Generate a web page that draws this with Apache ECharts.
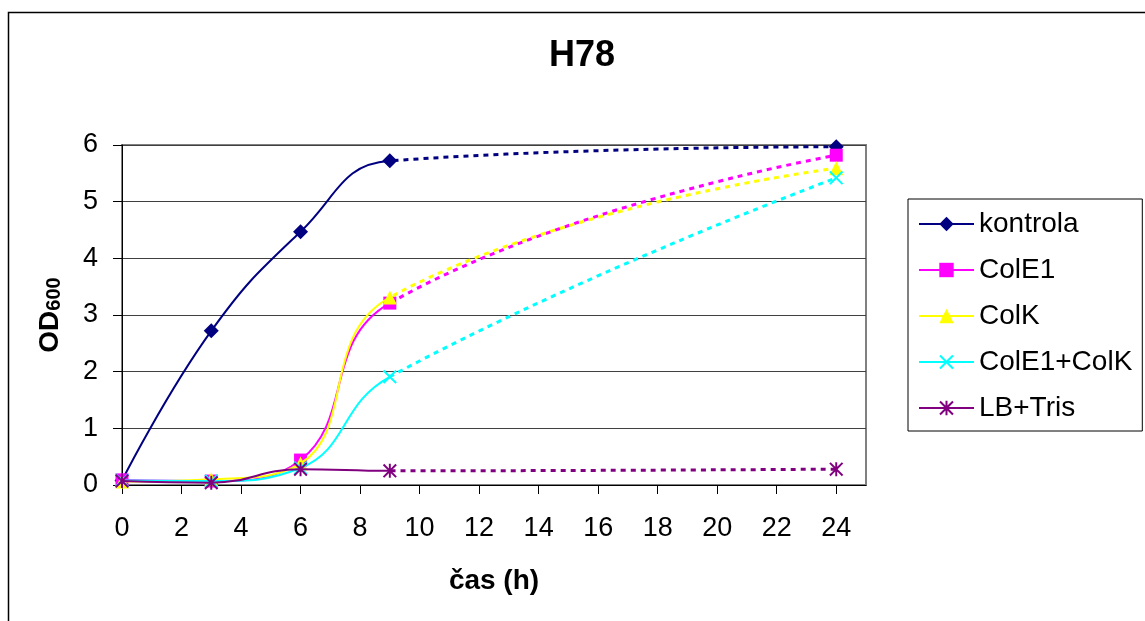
<!DOCTYPE html>
<html>
<head>
<meta charset="utf-8">
<script src="https://cdn.jsdelivr.net/npm/echarts@6/dist/echarts.min.js"></script>
<style>
html,body{margin:0;padding:0;background:#fff;}
#chart{width:1145px;height:621px;}
</style>
</head>
<body>
<div id="chart"></div>
<script>
// ---- data ----
const hours = [0, 3, 6, 9, 24];
const xTicks = [0, 2, 4, 6, 8, 10, 12, 14, 16, 18, 20, 22, 24];
const yTicks = [0, 1, 2, 3, 4, 5, 6];
const seriesNames = ['kontrola', 'ColE1', 'ColK', 'ColE1+ColK', 'LB+Tris'];
const kontrola  = [0.08, 2.72, 4.47, 5.72, 5.97];
const colE1     = [0.09, 0.07, 0.44, 3.21, 5.82];
const colK      = [0.06, 0.10, 0.38, 3.31, 5.59];
const colE1ColK = [0.08, 0.07, 0.30, 1.91, 5.42];
const lbTris    = [0.07, 0.04, 0.28, 0.25, 0.28];
const solidUntil = 9; // hours: solid line up to here, dotted after

// ---- styling ----
const FONT = '"Liberation Sans", Arial, sans-serif';
const X_PATH = 'path://M0,1L1,0L5,4L9,0L10,1L6,5L10,9L9,10L5,6L1,10L0,9L4,5Z';
const AST_PATH = 'path://M0,1L1,0L5,4L9,0L10,1L6,5L10,9L9,10L5,6L1,10L0,9L4,5Z M4.3,0L5.7,0L5.7,10L4.3,10Z';
const styles = [
  {color: '#000080', symbol: 'diamond', size: 15},
  {color: '#FF00FF', symbol: 'rect', size: 13},
  {color: '#FFFF00', symbol: 'triangle', size: 14},
  {color: '#00FFFF', symbol: X_PATH, size: 14},
  {color: '#800080', symbol: AST_PATH, size: 14}
];
const allValues = [kontrola, colE1, colK, colE1ColK, lbTris];
const CLEAR = 'rgba(255,255,255,0)';

const series = [];
const visualMaps = [];
seriesNames.forEach((name, k) => {
  const st = styles[k];
  const vals = allValues[k];
  const pts = hours.map((h, i) => [h, vals[i]]);
  // solid part (full smooth curve, visible only before solidUntil)
  visualMaps.push({
    type: 'piecewise', show: false, dimension: 0, seriesIndex: series.length,
    pieces: [{gte: -1000, lt: solidUntil, color: st.color}, {gte: solidUntil, lte: 1000, color: CLEAR}]
  });
  series.push({
    name: name, type: 'line', data: pts,
    smooth: 0.45, symbol: st.symbol, symbolSize: st.size, showSymbol: true,
    lineStyle: {width: 2},
    itemStyle: {color: st.color},
    emphasis: {disabled: true}, z: 2 + k
  });
  // dotted part (same curve, visible only from solidUntil on)
  visualMaps.push({
    type: 'piecewise', show: false, dimension: 0, seriesIndex: series.length,
    pieces: [{gte: -1000, lt: solidUntil, color: CLEAR}, {gte: solidUntil, lte: 1000, color: st.color}]
  });
  series.push({
    name: name, type: 'line', data: pts,
    smooth: 0.45, symbol: st.symbol, symbolSize: st.size, showSymbol: true,
    lineStyle: {width: 3, type: [5, 5]},
    itemStyle: {color: st.color},
    emphasis: {disabled: true}, z: 2 + k
  });
});

const chart = echarts.init(document.getElementById('chart'), null, {renderer: 'canvas'});
chart.setOption({
  animation: false,
  backgroundColor: '#fff',
  textStyle: {fontFamily: FONT},
  title: {
    text: 'H78', left: 549, top: 38, padding: 0,
    textStyle: {fontFamily: FONT, fontSize: 36, fontWeight: 'bold', color: '#000'}
  },
  graphic: [{
    type: 'rect', silent: true, z: -10,
    shape: {x: 8.5, y: 12.5, width: 1300, height: 800},
    style: {fill: 'none', stroke: '#000', lineWidth: 1.5}
  }],
  grid: {
    left: 122, right: 279, top: 145, bottom: 136,
    show: true, borderColor: '#808080', borderWidth: 2, backgroundColor: '#fff'
  },
  visualMap: visualMaps,
  legend: {
    orient: 'vertical', left: 908, top: 199,
    data: seriesNames.map((n, k) => ({name: n, itemStyle: {color: styles[k].color}, lineStyle: {color: styles[k].color, width: 2, type: 'solid'}})),
    itemWidth: 55, itemHeight: 18, itemGap: 18,
    padding: [11, 10, 9, 10],
    borderColor: '#000', borderWidth: 1, backgroundColor: '#fff',
    selectedMode: false,
    textStyle: {fontFamily: FONT, fontSize: 28, color: '#000'}
  },
  xAxis: {
    type: 'value', min: 0, max: 25, interval: 2,
    name: 'čas (h)', nameLocation: 'middle', nameGap: 82,
    nameTextStyle: {fontFamily: FONT, fontSize: 28, fontWeight: 'bold', color: '#000'},
    axisLine: {show: true, lineStyle: {color: '#000', width: 1}},
    axisTick: {show: true, length: 9, lineStyle: {color: '#000'}, customValues: xTicks},
    axisLabel: {
      fontFamily: FONT, fontSize: 27, color: '#000', margin: 30,
      customValues: xTicks,
      formatter: v => (xTicks.indexOf(v) >= 0 ? String(v) : '')
    },
    splitLine: {show: false}
  },
  yAxis: {
    type: 'value', min: yTicks[0], max: yTicks[yTicks.length - 1], interval: 1,
    name: '{b|OD}{s|600}', nameLocation: 'middle', nameGap: 58, nameRotate: 90,
    nameTextStyle: {
      rich: {
        b: {fontFamily: FONT, fontSize: 28, fontWeight: 'bold', color: '#000', verticalAlign: 'bottom'},
        s: {fontFamily: FONT, fontSize: 20, fontWeight: 'bold', color: '#000', verticalAlign: 'bottom'}
      }
    },
    axisLine: {show: true, lineStyle: {color: '#000', width: 1}},
    axisTick: {show: true, length: 9, lineStyle: {color: '#000'}},
    axisLabel: {fontFamily: FONT, fontSize: 27, color: '#000', margin: 24},
    splitLine: {show: true, lineStyle: {color: '#404040', width: 1}}
  },
  series: series
});
</script>
</body>
</html>
